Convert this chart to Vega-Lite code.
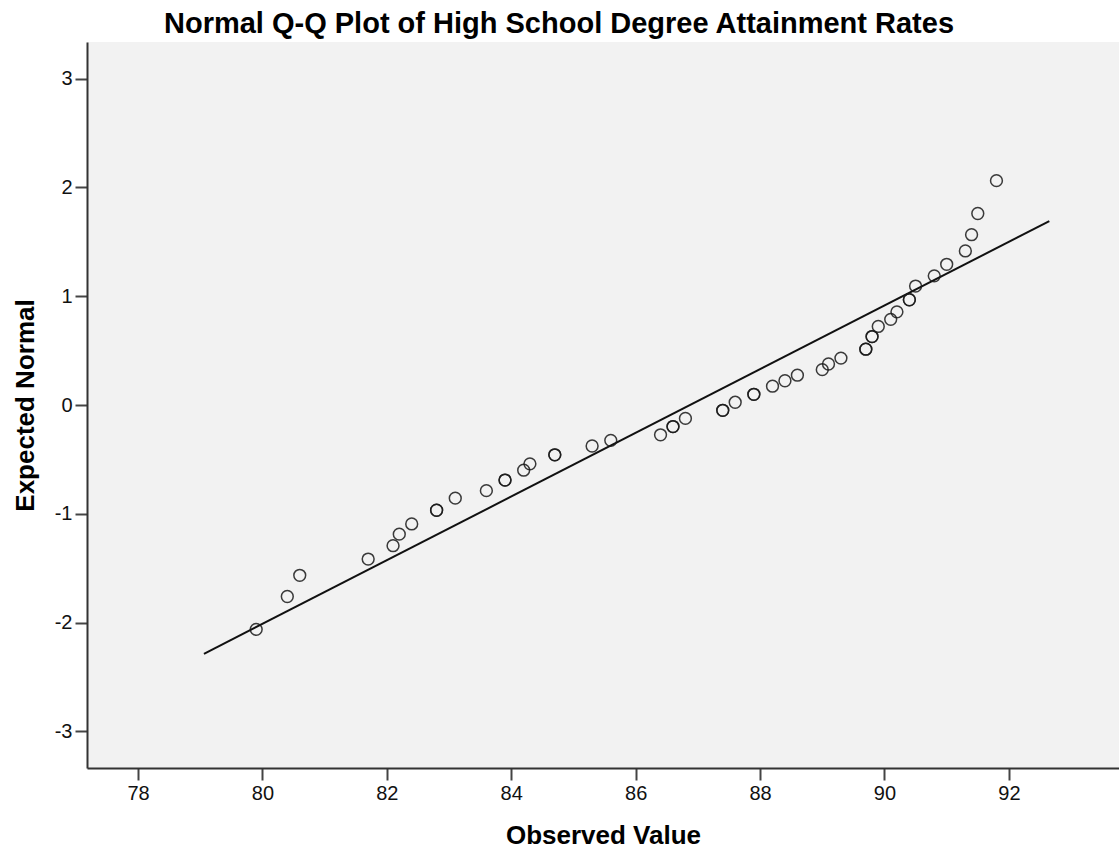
{
  "$schema": "https://vega.github.io/schema/vega-lite/v6.json",
  "width": 1032,
  "height": 726,
  "autosize": {"type": "none"},
  "padding": {"left": 87, "top": 42, "right": 0, "bottom": 80},
  "background": "white",
  "config": {
    "view": {"fill": "#f2f2f2", "stroke": null},
    "font": "Liberation Sans"
  },
  "title": {
    "text": "Normal Q-Q Plot of High School Degree Attainment Rates",
    "font": "Liberation Sans",
    "fontSize": 29,
    "fontWeight": "bold",
    "color": "#000000",
    "anchor": "middle",
    "frame": "group",
    "dx": -44,
    "dy": 30,
    "baseline": "bottom",
    "offset": 4
  },
  "datasets": {
    "points": [
      {"observed": 79.9, "expected": -2.062},
      {"observed": 80.4, "expected": -1.760},
      {"observed": 80.6, "expected": -1.565},
      {"observed": 81.7, "expected": -1.416},
      {"observed": 82.1, "expected": -1.293},
      {"observed": 82.2, "expected": -1.187},
      {"observed": 82.4, "expected": -1.093},
      {"observed": 82.8, "expected": -0.967},
      {"observed": 82.8, "expected": -0.967},
      {"observed": 83.1, "expected": -0.856},
      {"observed": 83.6, "expected": -0.787},
      {"observed": 83.9, "expected": -0.690},
      {"observed": 83.9, "expected": -0.690},
      {"observed": 84.2, "expected": -0.599},
      {"observed": 84.3, "expected": -0.541},
      {"observed": 84.7, "expected": -0.458},
      {"observed": 84.7, "expected": -0.458},
      {"observed": 85.3, "expected": -0.377},
      {"observed": 85.6, "expected": -0.325},
      {"observed": 86.4, "expected": -0.274},
      {"observed": 86.6, "expected": -0.198},
      {"observed": 86.6, "expected": -0.198},
      {"observed": 86.8, "expected": -0.123},
      {"observed": 87.4, "expected": -0.049},
      {"observed": 87.4, "expected": -0.049},
      {"observed": 87.6, "expected": 0.025},
      {"observed": 87.9, "expected": 0.098},
      {"observed": 87.9, "expected": 0.098},
      {"observed": 88.2, "expected": 0.173},
      {"observed": 88.4, "expected": 0.223},
      {"observed": 88.6, "expected": 0.274},
      {"observed": 89.0, "expected": 0.325},
      {"observed": 89.1, "expected": 0.377},
      {"observed": 89.3, "expected": 0.431},
      {"observed": 89.7, "expected": 0.513},
      {"observed": 89.7, "expected": 0.513},
      {"observed": 89.8, "expected": 0.629},
      {"observed": 89.8, "expected": 0.629},
      {"observed": 89.9, "expected": 0.722},
      {"observed": 90.1, "expected": 0.787},
      {"observed": 90.2, "expected": 0.856},
      {"observed": 90.4, "expected": 0.967},
      {"observed": 90.4, "expected": 0.967},
      {"observed": 90.5, "expected": 1.093},
      {"observed": 90.8, "expected": 1.187},
      {"observed": 91.0, "expected": 1.293},
      {"observed": 91.3, "expected": 1.416},
      {"observed": 91.4, "expected": 1.565},
      {"observed": 91.5, "expected": 1.760},
      {"observed": 91.8, "expected": 2.062}
    ],
    "fit": [
      {"observed": 79.06, "expected": -2.287},
      {"observed": 92.65, "expected": 1.690}
    ]
  },
  "encoding": {
    "x": {
      "field": "observed",
      "type": "quantitative",
      "scale": {"domain": [77.18, 93.77], "nice": false, "zero": false},
      "axis": {
        "values": [78, 80, 82, 84, 86, 88, 90, 92],
        "labelExpr": "'' + datum.value",
        "title": "Observed Value",
        "grid": false,
        "domainColor": "#333333",
        "domainWidth": 2,
        "tickColor": "#444444",
        "tickWidth": 2,
        "tickSize": 12,
        "labelFont": "Liberation Sans",
        "labelFontSize": 20,
        "labelColor": "#111111",
        "labelPadding": 3,
        "titleFont": "Liberation Sans",
        "titleFontSize": 26,
        "titleFontWeight": "bold",
        "titleColor": "#000000",
        "titlePadding": 19
      }
    },
    "y": {
      "field": "expected",
      "type": "quantitative",
      "scale": {"domain": [-3.336, 3.336], "nice": false, "zero": false},
      "axis": {
        "values": [-3, -2, -1, 0, 1, 2, 3],
        "labelExpr": "'' + datum.value",
        "title": "Expected Normal",
        "grid": false,
        "domainColor": "#333333",
        "domainWidth": 2,
        "tickColor": "#444444",
        "tickWidth": 2,
        "tickSize": 12,
        "labelFont": "Liberation Sans",
        "labelFontSize": 20,
        "labelColor": "#111111",
        "labelPadding": 3,
        "titleFont": "Liberation Sans",
        "titleFontSize": 26,
        "titleFontWeight": "bold",
        "titleColor": "#000000",
        "titlePadding": 16
      }
    }
  },
  "layer": [
    {
      "data": {"name": "fit"},
      "mark": {"type": "line", "color": "#111111", "strokeWidth": 2}
    },
    {
      "data": {"name": "points"},
      "mark": {"type": "point", "shape": "circle", "filled": false, "size": 140, "color": "#1a1a1a", "strokeWidth": 1.5, "opacity": 0.85}
    },
    {
      "data": {"values": [{}]},
      "mark": {"type": "rule", "color": "#8c8c8c", "strokeWidth": 2},
      "encoding": {"x": null, "y": {"datum": 3.336}}
    }
  ]
}
